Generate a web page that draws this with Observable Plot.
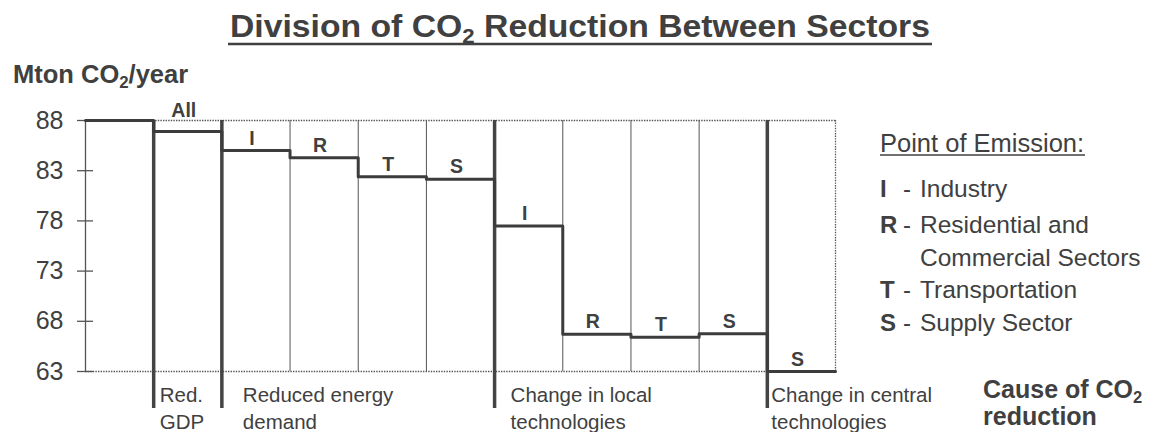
<!DOCTYPE html>
<html><head><meta charset="utf-8">
<script src="https://cdn.jsdelivr.net/npm/d3@7"></script>
<script src="https://cdn.jsdelivr.net/npm/@observablehq/plot@0.6"></script>
<style>
body{margin:0;background:#fff;}
svg{font-family:"Liberation Sans",Arial,Helvetica,sans-serif;}
</style>
</head><body><div id="chart"></div>
<script>
// ---- data ----
const steps = ["Base","All","I","R","T","S","I","R","T","S","S"];
const levels = [88, 86.9, 85.0, 84.3, 82.4, 82.15, 77.5, 66.7, 66.4, 66.75, 63.0];
const causes = ["Red.\nGDP","Reduced energy\ndemand","Change in local\ntechnologies","Change in central\ntechnologies"];
const causeStartCol = [1, 2, 6, 10];
const yTicks = [88, 83, 78, 73, 68, 63];
const legendKeys = ["I", "R", "", "T", "S"];
const legendNames = ["Industry", "Residential and", "Commercial Sectors", "Transportation", "Supply Sector"];
const titleText = ["Division of CO", "2", " Reduction Between Sectors"];
const yLabelText = ["Mton CO", "2", "/year"];
const causeTitle = ["Cause of CO", "2", "reduction"];
const legendTitle = "Point of Emission:";

// ---- layout ----
const ink = "#404040";
const nCols = steps.length;
const yMin = d3.min(yTicks), yMax = d3.max(yTicks);
const stepData = levels.map((v, i) => ({col: i, level: v, label: i === 0 ? "" : steps[i]}));
const linePts = [...stepData, {col: nCols, level: levels[nCols - 1]}];
const gridCols = d3.range(1, nCols);
const causeDx = [6, 21, 16, 4];
const dotted = {stroke: "#555", strokeWidth: 1.3, strokeDasharray: "1.4,1.2"};

const plot = Plot.plot({
  width: 1157, height: 432,
  marginLeft: 85, marginRight: 322, marginTop: 120, marginBottom: 61,
  x: {domain: [0, nCols], axis: null},
  y: {domain: [yMin, yMax], axis: null},
  style: {fontFamily: '"Liberation Sans",Arial,sans-serif', color: ink, background: "white", overflow: "visible"},
  marks: [
    Plot.ruleX(gridCols, {y1: yMin, y2: yMax, stroke: "#555", strokeWidth: 1}),
    Plot.ruleY([yMax, yMin], {x1: 0, x2: nCols, ...dotted}),
    Plot.ruleX([nCols], {y1: yMin, y2: yMax, ...dotted}),
    Plot.ruleX([0], {y1: yMin, y2: yMax, stroke: "#555", strokeWidth: 1.3}),
    Plot.ruleY(yTicks, {x1: 0, x2: 0, insetLeft: -8, insetRight: -8, stroke: "#555", strokeWidth: 1.3}),
    Plot.axisY({ticks: yTicks, tickSize: 0, tickPadding: 22, fontSize: 25, fill: ink, tickFormat: d => d, label: null}),
    Plot.ruleX(causeStartCol, {y1: yMax, y2: yMin, insetBottom: -37, stroke: "#444", strokeWidth: 3.5}),
    Plot.line(linePts, {x: "col", y: "level", curve: "step-after", stroke: "#3c3c3c", strokeWidth: 3}),
    Plot.text(stepData.filter(d => d.label && yMax - d.level >= 2), {
      x: d => d.col + 0.5, y: "level", dx: -4, dy: -6, text: "label",
      lineAnchor: "bottom", fontWeight: "bold", fontSize: 19.5, fill: ink}),
    Plot.text(stepData.filter(d => d.label && yMax - d.level < 2), {
      x: d => d.col + 0.5, y: () => yMax, dx: -4, dy: -3.5, text: "label",
      lineAnchor: "bottom", fontWeight: "bold", fontSize: 19.5, fill: ink}),
    ...causes.map((c, i) => Plot.text([c], {
      x: () => causeStartCol[i], y: () => yMin, dx: causeDx[i], dy: 12, text: d => d,
      textAnchor: "start", lineAnchor: "top", lineHeight: 1.3, fontSize: 20.5, fill: ink}))
  ]
});
document.getElementById("chart").appendChild(plot);

const svg = d3.select(plot);
function addText(x, y, str, size, weight) {
  return svg.append("text").attr("x", x).attr("y", y).attr("fill", ink)
    .attr("font-size", size).attr("font-weight", weight || "normal")
    .attr("text-anchor", "start").style("white-space", "pre").text(str);
}
function subText(x, y, parts, size, weight, anchor) {
  const t = svg.append("text").attr("x", x).attr("y", y).attr("fill", ink)
    .attr("font-size", size).attr("font-weight", weight)
    .attr("text-anchor", anchor || "start").style("white-space", "pre");
  t.append("tspan").text(parts[0]);
  t.append("tspan").attr("font-size", size * 0.66).attr("dy", size * 0.2).text(parts[1]);
  if (parts[2]) t.append("tspan").attr("dy", -size * 0.2).text(parts[2]);
  return t;
}
// title
subText(580, 37, titleText, 32, "bold", "middle")
  .attr("textLength", 700).attr("lengthAdjust", "spacingAndGlyphs");
svg.append("line").attr("x1", 228).attr("x2", 932).attr("y1", 44).attr("y2", 44)
  .attr("stroke", ink).attr("stroke-width", 2.5);
// y label
subText(13, 83, yLabelText, 25.5, "bold");
// cause of reduction
subText(983, 398, causeTitle.slice(0, 2), 25, "bold");
addText(983, 425, causeTitle[2], 25, "bold");
// legend
addText(880, 152, legendTitle, 25.5);
svg.append("line").attr("x1", 880).attr("x2", 1085).attr("y1", 155).attr("y2", 155)
  .attr("stroke", ink).attr("stroke-width", 1.5);
const legendBaselines = [197, 233, 266, 298, 331];
legendNames.forEach((n, i) => {
  const y = legendBaselines[i];
  if (legendKeys[i]) {
    addText(880, y, legendKeys[i], 24, "bold");
    addText(903, y, "-", 24);
  }
  addText(920, y, n, 24.5);
});
</script>
</body></html>
